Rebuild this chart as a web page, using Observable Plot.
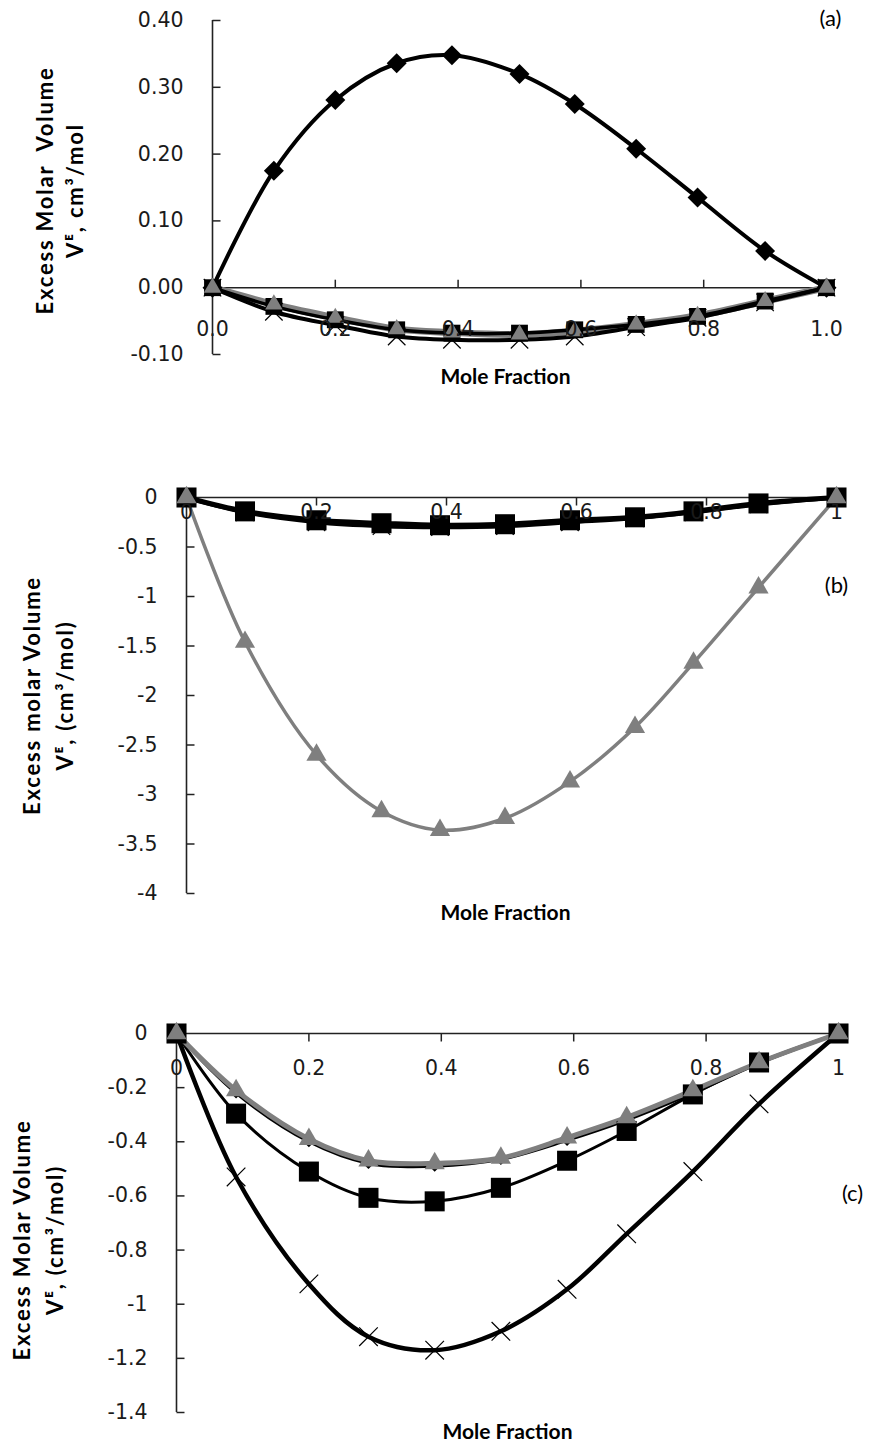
<!DOCTYPE html>
<html><head><meta charset="utf-8">
<script src="https://cdn.jsdelivr.net/npm/d3@7"></script>
<script src="https://cdn.jsdelivr.net/npm/@observablehq/plot@0.6"></script>
<style>
body{margin:0;background:#fff;}
#wrap{position:relative;width:869px;height:1447px;overflow:hidden;}
#wrap svg{position:absolute;left:0;}
</style></head><body><div id="wrap"></div>
<script>
// ---------- Panel (a) data ----------
const xA = [0, 0.1, 0.2, 0.3, 0.39, 0.5, 0.59, 0.69, 0.79, 0.9, 1.0];
const aDiamond  = [0, 0.175, 0.281, 0.336, 0.348, 0.320, 0.275, 0.208, 0.135, 0.055, 0];
const aSquare   = [0, -0.028, -0.048, -0.063, -0.068, -0.068, -0.063, -0.055, -0.043, -0.020, 0];
const aTriangle = [0, -0.025, -0.045, -0.062, -0.067, -0.070, -0.065, -0.055, -0.042, -0.020, 0];
const aCross    = [0, -0.036, -0.056, -0.073, -0.078, -0.078, -0.073, -0.059, -0.045, -0.022, 0];
const xTicksA = [0, 0.2, 0.4, 0.6, 0.8, 1.0];
const xLabelsA = ["0.0", "0.2", "0.4", "0.6", "0.8", "1.0"];
const yTicksA = [0.4, 0.3, 0.2, 0.1, 0, -0.1];
const yLabelsA = ["0.40", "0.30", "0.20", "0.10", "0.00", "-0.10"];

// ---------- Panel (b) data ----------
const xB = [0, 0.09, 0.2, 0.3, 0.39, 0.49, 0.59, 0.69, 0.78, 0.88, 1];
const bTriangle = [0, -1.46, -2.60, -3.17, -3.36, -3.24, -2.87, -2.32, -1.67, -0.91, 0];
const bSquare   = [0, -0.14, -0.23, -0.26, -0.28, -0.27, -0.23, -0.20, -0.14, -0.06, 0];
const bCross    = [0, -0.15, -0.25, -0.29, -0.30, -0.29, -0.25, -0.21, -0.15, -0.07, 0];
const xTicksB = [0, 0.2, 0.4, 0.6, 0.8, 1];
const xLabelsB = ["0", "0.2", "0.4", "0.6", "0.8", "1"];
const yTicksB = [0, -0.5, -1, -1.5, -2, -2.5, -3, -3.5, -4];
const yLabelsB = ["0", "-0.5", "-1", "-1.5", "-2", "-2.5", "-3", "-3.5", "-4"];

// ---------- Panel (c) data ----------
const xC = [0, 0.09, 0.2, 0.29, 0.39, 0.49, 0.59, 0.68, 0.78, 0.88, 1];
const cCross    = [0, -0.53, -0.925, -1.12, -1.17, -1.10, -0.945, -0.74, -0.51, -0.26, 0];
const cSquare   = [0, -0.296, -0.51, -0.607, -0.62, -0.57, -0.47, -0.36, -0.225, -0.107, 0];
const cTriangle = [0, -0.21, -0.39, -0.47, -0.48, -0.46, -0.385, -0.31, -0.21, -0.107, 0];
const cDiamond  = [0, -0.22, -0.40, -0.48, -0.49, -0.465, -0.395, -0.32, -0.22, -0.11, 0];
const xTicksC = [0, 0.2, 0.4, 0.6, 0.8, 1];
const xLabelsC = ["0", "0.2", "0.4", "0.6", "0.8", "1"];
const yTicksC = [0, -0.2, -0.4, -0.6, -0.8, -1, -1.2, -1.4];
const yLabelsC = ["0", "-0.2", "-0.4", "-0.6", "-0.8", "-1", "-1.2", "-1.4"];

const GRAY = "#7f7f7f";
const FT = "'DejaVu Sans', sans-serif";
const FH = "Lato, 'DejaVu Sans', sans-serif";

function pts(xs, ys) { return xs.map((x, i) => ({x, y: ys[i]})); }
function tickMark(dx, dy) { return {draw(c) { c.moveTo(0, 0); c.lineTo(dx, dy); }}; }

function lineMark(xs, ys, stroke, w) {
  return Plot.line(pts(xs, ys), {x: "x", y: "y", curve: "catmull-rom", stroke, strokeWidth: w, strokeLinejoin: "round"});
}
function dotMark(xs, ys, symbol, r, color, stroked) {
  return Plot.dot(pts(xs, ys), stroked
    ? {x: "x", y: "y", symbol, r, fill: "none", stroke: color, strokeWidth: 1.2}
    : {x: "x", y: "y", symbol, r, fill: color, stroke: "none"});
}

function makePanel(cfg) {
  const titleStyle = {textAnchor: "middle", lineAnchor: "middle", fontSize: 22, fontWeight: "bold", fontFamily: FH, fill: "#000"};
  const marks = [
    Plot.ruleX([0], {stroke: "#222", strokeWidth: 1.6}),
    Plot.ruleY([0], {stroke: "#222", strokeWidth: 1.6}),
    Plot.dot(cfg.xTicks, {x: d => d, y: () => 0, symbol: tickMark(0, cfg.xTickLen), fill: "none", stroke: "#222", strokeWidth: 1.5}),
    Plot.dot(cfg.yTicks, {x: () => 0, y: d => d, symbol: tickMark(8, 0), fill: "none", stroke: "#222", strokeWidth: 1.5}),
    ...cfg.series,
    Plot.text(cfg.xTicks, {x: d => d, y: () => 0, text: (d, i) => cfg.xLabels[i], dy: cfg.xLabelDy, fontSize: 20.5, fontFamily: FT, fill: "#1a1a1a", lineAnchor: "middle"}),
    Plot.text(cfg.yTicks, {x: () => 0, y: d => d, text: (d, i) => cfg.yLabels[i], dx: -29, textAnchor: "end", lineAnchor: "middle", fontSize: 20.5, fontFamily: FT, fill: "#1a1a1a"}),
    Plot.text([cfg.yTitle[0]], {...titleStyle, text: d => d, frameAnchor: "left", rotate: -90, dx: cfg.yTitleDx[0], dy: cfg.yTitleDy}),
    Plot.text([cfg.yTitle[1]], {...titleStyle, text: d => d, frameAnchor: "left", rotate: -90, dx: cfg.yTitleDx[1], dy: cfg.yTitleDy}),
    Plot.text(["Mole Fraction"], {...titleStyle, fontSize: 21, text: d => d, frameAnchor: "bottom", dx: cfg.xTitleDx, dy: cfg.xTitleDy}),
    Plot.text([cfg.tag], {text: d => d, frameAnchor: "top-right", dx: cfg.tagDx, dy: cfg.tagDy, textAnchor: "middle", lineAnchor: "middle", fontSize: 22, fontFamily: FH, fill: "#000"})
  ];
  const svg = Plot.plot({
    width: 869, height: cfg.height,
    marginTop: cfg.margin[0], marginRight: cfg.margin[1], marginBottom: cfg.margin[2], marginLeft: cfg.margin[3],
    x: {domain: [0, 1], axis: null},
    y: {domain: cfg.yDomain, axis: null},
    style: {background: "transparent", overflow: "visible"},
    marks
  });
  svg.style.top = cfg.top + "px";
  // letter spacing for the rotated axis titles
  svg.querySelectorAll("text").forEach(t => {
    const tr = t.getAttribute("transform") || "";
    if (tr.includes("rotate(-90")) t.style.letterSpacing = "1.8px";
  });
  document.getElementById("wrap").appendChild(svg);
}

// Panel (a)
makePanel({
  top: 0, height: 400, margin: [20, 43, 46, 212], yDomain: [-0.1, 0.4],
  xTicks: xTicksA, xLabels: xLabelsA, yTicks: yTicksA, yLabels: yLabelsA,
  xTickLen: -8, xLabelDy: 42,
  yTitle: ["Excess Molar  Volume", "V\u1D31, cm\u00B3/mol"], yTitleDx: [-167, -137], yTitleDy: 3,
  xTitleDx: -14, xTitleDy: 23, tag: "(a)", tagDx: 4, tagDy: -2,
  series: [
    lineMark(xA, aDiamond, "#000", 4),
    lineMark(xA, aTriangle, GRAY, 7),
    lineMark(xA, aSquare, "#000", 3.5),
    lineMark(xA, aCross, "#000", 4),
    dotMark(xA, aDiamond, "diamond2", 9, "#000"),
    dotMark(xA, aSquare, "square", 9.5, "#000"),
    dotMark(xA, aCross, "times", 8, "#000", true),
    dotMark(xA, aTriangle, "triangle", 6.5, GRAY)
  ]
});

// Panel (b)
makePanel({
  top: 460, height: 480, margin: [37, 33, 47, 186], yDomain: [-4, 0],
  xTicks: xTicksB, xLabels: xLabelsB, yTicks: yTicksB, yLabels: yLabelsB,
  xTickLen: 8, xLabelDy: 15,
  yTitle: ["Excess molar Volume", "V\u1D31, (cm\u00B3/mol)"], yTitleDx: [-154, -121], yTitleDy: 0,
  xTitleDx: -6, xTitleDy: 20, tag: "(b)", tagDx: 0, tagDy: 88,
  series: [
    lineMark(xB, bTriangle, GRAY, 3.5),
    lineMark(xB, bCross, "#000", 4),
    lineMark(xB, bSquare, "#000", 5),
    dotMark(xB, bCross, "times", 8, "#000", true),
    dotMark(xB, bSquare, "square", 11.3, "#000"),
    dotMark(xB, bTriangle, "triangle", 7.5, GRAY)
  ]
});

// Panel (c)
makePanel({
  top: 1000, height: 447, margin: [33, 31, 35, 176], yDomain: [-1.4, 0],
  xTicks: xTicksC, xLabels: xLabelsC, yTicks: yTicksC, yLabels: yLabelsC,
  xTickLen: 8, xLabelDy: 35,
  yTitle: ["Excess Molar Volume", "V\u1D31, (cm\u00B3/mol)"], yTitleDx: [-154, -121], yTitleDy: 17,
  xTitleDx: 0, xTitleDy: 20, tag: "(c)", tagDx: 14, tagDy: 160,
  series: [
    lineMark(xC, cCross, "#000", 4.5),
    lineMark(xC, cSquare, "#000", 3),
    lineMark(xC, cDiamond, "#000", 3),
    lineMark(xC, cTriangle, GRAY, 5),
    dotMark(xC, cCross, "times", 8.5, "#000", true),
    dotMark(xC, cSquare, "square", 11.3, "#000"),
    dotMark(xC, cDiamond, "diamond2", 5, "#000"),
    dotMark(xC, cTriangle, "triangle", 7.5, GRAY)
  ]
});
</script>
</body></html>
